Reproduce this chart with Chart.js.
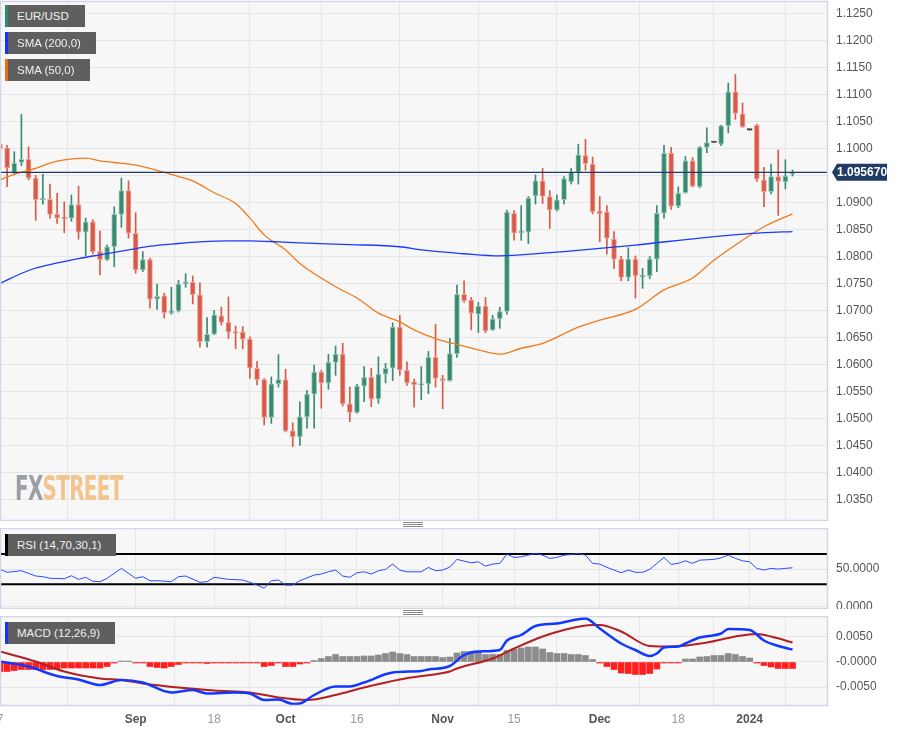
<!DOCTYPE html>
<html lang="en">
<head>
<meta charset="UTF-8">
<title>EUR/USD daily</title>
<script src="https://cdn.jsdelivr.net/npm/chart.js@4"></script>
<style>
  body { margin: 0; background: #fff; font-family: 'Liberation Sans', Arial, sans-serif; }
  #wrap { position: relative; width: 898px; height: 731px; overflow: hidden; }
  .pane { position: absolute; left: 0; width: 898px; }
  .tag { position: absolute; left: 5px; height: 22px; line-height: 22px; background: #5f5f5f; color: #f0f0f0;
         font-size: 11.5px; padding-left: 9px; box-sizing: border-box; border-left: 3px solid; }
  .grip { position: absolute; left: 403px; width: 20px; height: 1px; background: #8a8a8a; }
  #mark { position: absolute; left: 15px; top: 468px; font: bold 34px 'DejaVu Sans Condensed', sans-serif;
          letter-spacing: -1px; transform: scaleX(0.65); transform-origin: left top; }
</style>
</head>
<body>
<div id="wrap">
  <div class="pane" style="top:0;height:521px"><canvas id="priceChart"></canvas></div>
  <div class="pane" style="top:528px;height:81px"><canvas id="rsiChart"></canvas></div>
  <div class="pane" style="top:616px;height:115px"><canvas id="macdChart"></canvas></div>

  <div id="mark"><span style="color:#9c9ea5">FX</span><span style="color:#f3c58e">STREET</span></div>

  <div class="tag" style="top:5px;width:80px;border-color:#2e8a6c">EUR/USD</div>
  <div class="tag" style="top:32px;width:91px;border-color:#1433ff">SMA (200,0)</div>
  <div class="tag" style="top:59px;width:85px;border-color:#f06a10">SMA (50,0)</div>
  <div class="tag" style="top:534px;width:111px;border-color:#000">RSI (14,70,30,1)</div>
  <div class="tag" style="top:622px;width:110px;border-color:#1433ff">MACD (12,26,9)</div>

  <div class="grip" style="top:522px"></div><div class="grip" style="top:524px"></div><div class="grip" style="top:526px"></div>
  <div class="grip" style="top:610px"></div><div class="grip" style="top:612px"></div><div class="grip" style="top:614px"></div>
</div>

<script>
// daily candles, 7 Aug 2023 .. 9 Jan 2024 (index = trading day)
var openP = [1.1009,1.1002,1.0956,1.0975,1.0981,1.0946,1.0906,1.0907,1.0879,1.0873,
  1.0872,1.0897,1.0846,1.0865,1.0810,1.0795,1.0819,1.0879,1.0923,1.0844,
  1.0776,1.0795,1.0722,1.0728,1.0697,1.0700,1.0750,1.0753,1.0730,1.0643,
  1.0657,1.0691,1.0679,1.0661,1.0661,1.0648,1.0594,1.0573,1.0503,1.0565,
  1.0573,1.0478,1.0467,1.0504,1.0546,1.0587,1.0567,1.0605,1.0620,1.0528,
  1.0512,1.0561,1.0577,1.0537,1.0583,1.0594,1.0670,1.0590,1.0569,1.0563,
  1.0565,1.0614,1.0575,1.0571,1.0621,1.0731,1.0720,1.0694,1.0709,1.0665,
  1.0686,1.0699,1.0881,1.0845,1.0846,1.0913,1.0941,1.0912,1.0887,1.0906,
  1.0939,1.0957,1.0988,1.0972,1.0885,1.0883,1.0833,1.0796,1.0762,1.0796,
  1.0763,1.0765,1.0796,1.0881,1.0992,1.0894,1.0919,1.0978,1.0930,1.1003,
  1.1012,1.1009,1.1043,1.1106,1.1065,1.1035,1.1044,1.0943,1.0921,1.0949,
  1.0939,1.0954];
var highP = [1.1020,1.1007,1.0995,1.1064,1.1004,1.0951,1.0953,1.0935,1.0918,1.0902,
  1.0915,1.0931,1.0872,1.0869,1.0848,1.0822,1.0893,1.0946,1.0941,1.0882,
  1.0810,1.0798,1.0750,1.0733,1.0744,1.0757,1.0769,1.0765,1.0752,1.0688,
  1.0701,1.0707,1.0726,1.0672,1.0671,1.0652,1.0607,1.0575,1.0578,1.0619,
  1.0592,1.0493,1.0532,1.0553,1.0600,1.0590,1.0620,1.0635,1.0640,1.0559,
  1.0564,1.0597,1.0594,1.0615,1.0603,1.0678,1.0692,1.0606,1.0574,1.0597,
  1.0625,1.0675,1.0581,1.0649,1.0748,1.0756,1.0725,1.0716,1.0725,1.0692,
  1.0707,1.0887,1.0886,1.0895,1.0912,1.0952,1.0964,1.0923,1.0915,1.0949,
  1.0964,1.1009,1.1018,1.0985,1.0912,1.0895,1.0847,1.0801,1.0817,1.0802,
  1.0779,1.0801,1.0895,1.1007,1.1003,1.0930,1.0986,1.0984,1.1005,1.1039,
  1.1012,1.1044,1.1122,1.1138,1.1085,1.1035,1.1046,1.0966,1.0972,1.0998,
  1.0980,1.0961];
var lowP = [1.0995,1.0930,1.0952,1.0969,1.0943,1.0868,1.0898,1.0872,1.0862,1.0845,
  1.0866,1.0833,1.0802,1.0806,1.0767,1.0793,1.0782,1.0855,1.0835,1.0770,
  1.0773,1.0705,1.0703,1.0687,1.0694,1.0698,1.0744,1.0713,1.0633,1.0633,
  1.0656,1.0674,1.0649,1.0630,1.0630,1.0575,1.0563,1.0489,1.0492,1.0559,
  1.0476,1.0449,1.0451,1.0483,1.0483,1.0520,1.0555,1.0581,1.0524,1.0495,
  1.0511,1.0532,1.0523,1.0529,1.0567,1.0571,1.0581,1.0562,1.0522,1.0536,
  1.0547,1.0559,1.0519,1.0570,1.0614,1.0716,1.0665,1.0660,1.0660,1.0664,
  1.0668,1.0694,1.0831,1.0831,1.0825,1.0898,1.0899,1.0853,1.0885,1.0898,
  1.0935,1.0935,1.0961,1.0880,1.0828,1.0805,1.0779,1.0756,1.0756,1.0724,
  1.0742,1.0760,1.0773,1.0872,1.0888,1.0891,1.0918,1.0930,1.0928,1.0993,
  1.1012,1.1006,1.1030,1.1055,1.1040,1.1035,1.0940,1.0893,1.0917,1.0877,
  1.0926,1.0950];
var closeP = [1.1000,1.0965,1.0974,1.0981,1.0946,1.0906,1.0908,1.0879,1.0872,1.0871,
  1.0897,1.0846,1.0865,1.0810,1.0795,1.0819,1.0879,1.0923,1.0844,1.0776,
  1.0795,1.0722,1.0727,1.0697,1.0700,1.0750,1.0754,1.0730,1.0643,1.0657,
  1.0693,1.0679,1.0661,1.0659,1.0648,1.0594,1.0573,1.0503,1.0565,1.0573,
  1.0478,1.0467,1.0504,1.0546,1.0587,1.0567,1.0605,1.0620,1.0528,1.0512,
  1.0561,1.0577,1.0537,1.0583,1.0594,1.0670,1.0591,1.0567,1.0563,1.0565,
  1.0614,1.0575,1.0571,1.0621,1.0731,1.0719,1.0696,1.0709,1.0663,1.0685,
  1.0699,1.0883,1.0844,1.0847,1.0909,1.0941,1.0912,1.0887,1.0906,1.0945,
  1.0957,1.0989,1.0973,1.0884,1.0880,1.0835,1.0796,1.0762,1.0796,1.0765,
  1.0766,1.0796,1.0881,1.0992,1.0894,1.0918,1.0978,1.0931,1.1003,1.1012,
  1.1012,1.1043,1.1106,1.1066,1.1041,1.1035,1.0944,1.0921,1.0949,1.0940,
  1.0950,1.09567];

// moving averages, read at the day indexes in the *X arrays
var sma200X = [0,4,7,11,14,18,21,25,28,32,35,39,42,49,56,59,65,70,76,79,89,98,107,111];
var sma200 = [1.0751,1.0775,1.0786,1.0797,1.0804,1.0813,1.0820,1.0825,1.0828,1.0830,1.0830,1.0828,
  1.0826,1.0823,1.0819,1.0813,1.0806,1.0802,1.0807,1.0810,1.0822,1.0835,1.0845,1.0847];
var sma50X = [0,2,5,7,9,12,14,16,19,21,25,27,30,33,35,37,40,42,47,50,53,56,58,61,64,67,70,73,76,81,84,89,93,97,100,104,107,111];
var sma50 = [1.0943,1.0953,1.0964,1.0974,1.0980,1.0983,1.0978,1.0975,1.0970,1.0964,1.0949,1.0941,
  1.0919,1.0899,1.0872,1.0841,1.0813,1.0788,1.0745,1.0724,1.0696,1.0680,1.0665,1.0649,1.0638,
  1.0628,1.0620,1.0631,1.0640,1.0670,1.0683,1.0703,1.0739,1.0761,1.0794,1.0831,1.0856,1.0880];

var rsiX = [0,1,3,5,6,7,9,10,11,12,13,14,15,17,19,20,21,22,24,25,26,28,29,30,32,34,35,36,37,38,
  39,40,41,42,44,45,46,47,48,49,50,51,52,53,54,55,56,57,59,60,61,62,63,64,66,67,68,69,70,71,
  72,73,75,76,77,78,79,80,81,82,83,84,85,86,87,88,89,90,91,92,93,94,95,96,97,98,100,101,102,103,
  104,105,106,107,108,109,110,111];
var rsi = [49.6,45.7,47.8,40.8,39.9,37.8,37.2,41.2,36.4,39.1,33.8,33.3,37.8,50.9,37.8,39.9,34.6,34.6,33.3,39.9,
  40.8,32.5,33.3,39.1,36.4,35.5,32.5,28.9,24.6,34.6,35.5,28.9,28.9,34.6,42.1,43.4,46.4,48.7,40.8,39.1,
  45.1,46.4,43.4,47.8,49.6,56.6,48.7,46.4,46.4,52.2,47.8,48.7,52.6,62.8,58.3,59.6,53.9,56.6,57.5,69.7,
  65.4,66.2,70.7,68.4,64.1,65.4,68.4,69.3,70.7,68.4,57.5,56.6,52.2,48.7,45.1,48.7,45.7,45.7,49.6,57.5,
  65.4,56.2,57.5,60.9,57.5,61.8,62.8,64.9,68.4,64.1,60.9,59.6,50.9,48.7,50.9,50.0,50.9,51.7];
var rsiLevels = [70, 30];

var macdX = [0,4,8,11,14,17,20,24,27,29,33,35,37,39,41,42,44,47,49,51,55,59,60,63,65,67,70,71,73,75,
  78,82,84,87,89,91,92,93,95,96,98,101,102,105,107,109,111];
var macd = [0.0001,-0.0009,-0.0028,-0.0035,-0.0046,-0.0036,-0.0041,-0.0061,-0.0056,-0.0063,
  -0.0061,-0.0063,-0.0076,-0.0075,-0.0084,-0.0083,-0.0066,-0.0049,-0.0049,-0.0041,
  -0.0021,-0.0018,-0.0015,-0.0008,0.0014,0.0021,0.0024,0.0043,0.0054,0.0072,
  0.0077,0.0087,0.0067,0.0037,0.0024,0.0012,0.0017,0.0029,0.0031,0.0037,
  0.0049,0.0057,0.0066,0.0064,0.0043,0.0032,0.0025];
var signalX = [0,5,9,14,17,20,25,30,35,39,43,47,51,56,62,63,64,69,72,76,79,83,84,87,91,94,99,103,106,108,111];
var signal = [0.0021,0.0001,-0.0019,-0.0033,-0.0036,-0.0043,-0.0051,-0.0057,-0.0061,-0.0071,
  -0.0076,-0.0066,-0.0051,-0.0035,-0.0022,-0.0019,-0.0013,0.0007,0.0027,0.0051,
  0.0064,0.0074,0.0074,0.0061,0.0032,0.0031,0.0039,0.0051,0.0056,0.0051,0.0039];
var hist = [-0.0019,-0.0019,-0.0017,-0.0015,-0.0015,-0.0015,-0.0015,-0.0015,-0.0014,-0.0012,
  -0.0012,-0.0012,-0.0012,-0.0012,-0.0012,-0.0009,-0.0002,0.0001,0.0001,-0.0001,
  -0.0002,-0.0009,-0.0011,-0.0012,-0.0009,-0.0005,-0.0002,-0.0002,-0.0002,-0.0003,
  -0.0002,-0.0001,-0.0001,-0.0001,-0.0001,-0.0001,-0.0002,-0.0009,-0.0007,-0.0002,
  -0.0009,-0.0009,-0.0004,-0.0001,0.0003,0.0007,0.0011,0.0015,0.0011,0.0011,
  0.0011,0.0012,0.0012,0.0014,0.0017,0.0020,0.0017,0.0015,0.0011,0.0011,
  0.0011,0.0011,0.0009,0.0010,0.0018,0.0021,0.0021,0.0021,0.0015,0.0015,
  0.0015,0.0023,0.0026,0.0028,0.0030,0.0030,0.0026,0.0019,0.0017,0.0017,
  0.0015,0.0015,0.0013,0.0005,-0.0002,-0.0009,-0.0015,-0.0022,-0.0023,-0.0025,
  -0.0025,-0.0023,-0.0014,-0.0002,-0.0002,-0.0001,0.0006,0.0006,0.0010,0.0011,
  0.0013,0.0013,0.0017,0.0015,0.0011,0.0008,-0.0002,-0.0007,-0.0010,-0.0013,
  -0.0013,-0.0013];

// axis ticks
var xTickIdx = [0, 19, 30, 40, 50, 62, 72, 84, 95, 105];
var xTickText = ['7', 'Sep', '18', 'Oct', '16', 'Nov', '15', 'Dec', '18', '2024'];
var xTickBold = [false, true, false, true, false, true, false, true, false, true];
var priceTicks = [1.035,1.040,1.045,1.050,1.055,1.060,1.065,1.070,1.075,1.080,1.085,1.090,1.095,1.100,1.105,1.110,1.115,1.120,1.125];
var rsiTicks = [0, 50];
var macdTicks = [-0.005, 0, 0.005];
var macdTickText = ['-0.0050', '-0.0000', '0.0050'];

var family = "'Liberation Sans', Arial, sans-serif";
var X_MIN = 0.14, X_MAX = 115.83;
var lastClose = closeP[closeP.length - 1];

function pairs(xs, ys) {
    return xs.map(function (x, k) { return { x: x, y: ys[k] }; });
}
function candleColor(i) {
    if (closeP[i] > openP[i]) return '#388a70';
    if (closeP[i] < openP[i]) return '#d85a47';
    return '#333333';
}
function candleEdge(i) {
    if (closeP[i] > openP[i]) return '#98c8b6';
    if (closeP[i] < openP[i]) return '#eba69c';
    return '#333333';
}

function xScale(showLabels) {
    return {
        type: 'linear', min: X_MIN, max: X_MAX, offset: false,
        grid: { color: '#e6e6e6', drawTicks: false },
        border: { display: false },
        afterBuildTicks: function (s) { s.ticks = xTickIdx.map(function (v) { return { value: v }; }); },
        afterFit: function (s) { s.height = showLabels ? 26 : 0; s.paddingLeft = 0; s.paddingRight = 0; },
        ticks: {
            display: showLabels, autoSkip: false, maxRotation: 0, padding: 7,
            callback: function (v, i) { return xTickText[i]; },
            color: function (c) { return xTickBold[c.index] ? '#555' : '#999'; },
            font: function (c) { return { family: family, size: 12, weight: xTickBold[c.index] ? 'bold' : 'normal' }; }
        }
    };
}
function yScale(min, max, ticks, fmt, size) {
    return {
        position: 'right', min: min, max: max,
        grid: { color: '#e6e6e6', drawTicks: false },
        border: { display: false },
        afterBuildTicks: function (s) { s.ticks = ticks.map(function (v) { return { value: v }; }); },
        afterFit: function (s) { s.width = 71; s.paddingTop = 0; s.paddingBottom = 0; },
        ticks: { padding: 9, color: '#555', font: { family: family, size: size }, callback: fmt }
    };
}

// plot background + frame
var panelFrame = {
    id: 'panelFrame',
    beforeDraw: function (chart) {
        var a = chart.chartArea, c = chart.ctx;
        c.save();
        c.fillStyle = '#f7f7f7';
        c.fillRect(a.left, a.top, a.right - a.left, a.bottom - a.top);
        c.restore();
    },
    afterDraw: function (chart) {
        var a = chart.chartArea, c = chart.ctx;
        c.save();
        c.strokeStyle = '#d2d7e6';
        c.lineWidth = 1.5;
        c.strokeRect(a.left - 0.5, a.top - 0.5, a.right - a.left + 1, a.bottom - a.top + 1);
        c.restore();
    }
};

// last price tag on the right axis
var priceTag = {
    id: 'priceTag',
    afterDraw: function (chart) {
        var c = chart.ctx, a = chart.chartArea;
        var y = chart.scales.y.getPixelForValue(lastClose);
        var x0 = a.right + 5;
        c.save();
        c.fillStyle = '#1f3b66';
        c.beginPath();
        c.moveTo(x0, y);
        c.lineTo(x0 + 5, y - 8.5);
        c.lineTo(x0 + 55, y - 8.5);
        c.lineTo(x0 + 55, y + 8.5);
        c.lineTo(x0 + 5, y + 8.5);
        c.closePath();
        c.fill();
        c.fillStyle = '#fff';
        c.font = 'bold 12px ' + family;
        c.textBaseline = 'middle';
        c.fillText(lastClose.toFixed(6), x0 + 5, y + 0.5);
        c.restore();
    }
};

Chart.defaults.font.family = family;
var idx = openP.map(function (v, i) { return i; });

new Chart(document.getElementById('priceChart'), {
    type: 'bar',
    data: {
        datasets: [
            { type: 'line', label: 'Price', data: [{ x: X_MIN - 1, y: lastClose }, { x: X_MAX + 1, y: lastClose }],
              borderColor: '#1f3a6b', borderWidth: 1.2, pointRadius: 0, order: 0 },
            { type: 'line', label: 'SMA (200,0)', data: pairs(sma200X, sma200), borderColor: '#1a3cff',
              borderWidth: 1.3, pointRadius: 0, cubicInterpolationMode: 'monotone', order: 0 },
            { type: 'line', label: 'SMA (50,0)', data: pairs(sma50X, sma50), borderColor: '#f27a1c',
              borderWidth: 1.3, pointRadius: 0, cubicInterpolationMode: 'monotone', order: 0 },
            { label: 'body', grouped: false, barThickness: 5, minBarLength: 1.5, order: 1,
              data: idx.map(function (i) { return { x: i, y: [Math.min(openP[i], closeP[i]), Math.max(openP[i], closeP[i])] }; }),
              backgroundColor: idx.map(candleColor), borderColor: idx.map(candleEdge), borderWidth: 1, borderSkipped: false },
            { label: 'wick', grouped: false, barThickness: 1, order: 2,
              data: idx.map(function (i) { return { x: i, y: [lowP[i], highP[i]] }; }),
              backgroundColor: idx.map(candleColor) }
        ]
    },
    options: {
        responsive: true, maintainAspectRatio: false, animation: false,
        layout: { padding: { top: 2, left: 1, right: 0, bottom: 1 } },
        plugins: { legend: { display: false }, tooltip: { enabled: false } },
        scales: {
            x: xScale(false),
            y: yScale(1.031296, 1.12722, priceTicks, function (v) { return v.toFixed(4); }, 12)
        }
    },
    plugins: [panelFrame, priceTag]
});

new Chart(document.getElementById('rsiChart'), {
    type: 'line',
    data: {
        datasets: [
            { label: 'RSI', data: pairs(rsiX, rsi), borderColor: '#2a4cff', borderWidth: 1, pointRadius: 0 },
            { label: '70', data: [{ x: X_MIN - 1, y: rsiLevels[0] }, { x: X_MAX + 1, y: rsiLevels[0] }],
              borderColor: '#000', borderWidth: 2, pointRadius: 0 },
            { label: '30', data: [{ x: X_MIN - 1, y: rsiLevels[1] }, { x: X_MAX + 1, y: rsiLevels[1] }],
              borderColor: '#000', borderWidth: 2, pointRadius: 0 }
        ]
    },
    options: {
        responsive: true, maintainAspectRatio: false, animation: false,
        layout: { padding: { top: 1, left: 1, right: 0, bottom: 1 } },
        plugins: { legend: { display: false }, tooltip: { enabled: false } },
        scales: {
            x: xScale(false),
            y: yScale(-1.5, 103, rsiTicks, function (v) { return v.toFixed(4); }, 12)
        }
    },
    plugins: [panelFrame]
});

new Chart(document.getElementById('macdChart'), {
    type: 'bar',
    data: {
        datasets: [
            { type: 'line', label: 'MACD', data: pairs(macdX, macd), borderColor: '#1237ff', borderWidth: 2.5,
              pointRadius: 0, cubicInterpolationMode: 'monotone', order: 0 },
            { type: 'line', label: 'Signal', data: pairs(signalX, signal), borderColor: '#b3201f', borderWidth: 2,
              pointRadius: 0, cubicInterpolationMode: 'monotone', order: 0 },
            { label: 'Histogram', grouped: false, barThickness: 6, minBarLength: 1, order: 1,
              data: hist.map(function (v, i) { return { x: i, y: v }; }),
              backgroundColor: hist.map(function (v) { return v < 0 ? '#ff1f1f' : '#8c8c8c'; }) }
        ]
    },
    options: {
        responsive: true, maintainAspectRatio: false, animation: false,
        layout: { padding: { top: 1, left: 1, right: 0, bottom: 0 } },
        plugins: { legend: { display: false }, tooltip: { enabled: false } },
        scales: {
            x: xScale(true),
            y: yScale(-0.0086, 0.0090, macdTicks, function (v, i) { return macdTickText[i]; }, 12)
        }
    },
    plugins: [panelFrame]
});
</script>
</body>
</html>
